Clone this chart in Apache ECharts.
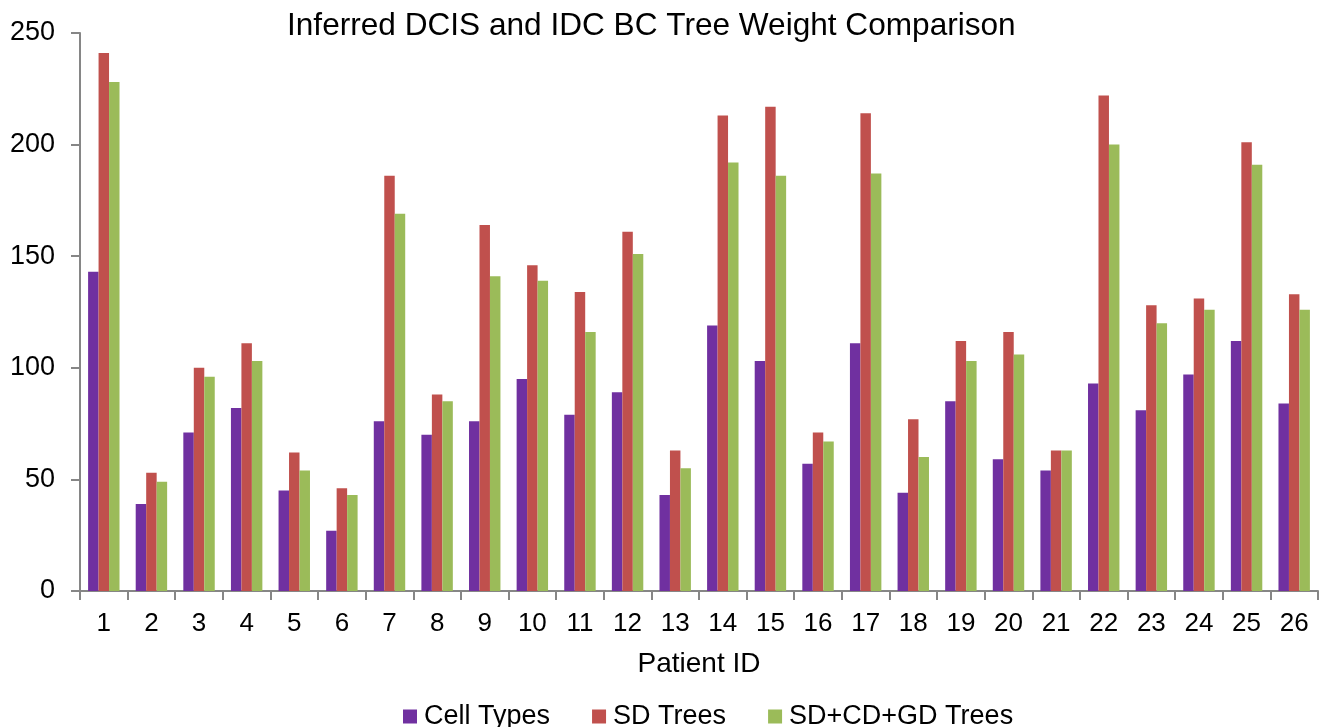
<!DOCTYPE html>
<html>
<head>
    <meta charset="utf-8">
    <script src="https://cdn.jsdelivr.net/npm/echarts@6/dist/echarts.min.js"></script>
    <style>
        html,body{margin:0;padding:0;background:#fff;}
        #chart{width:1322px;height:727px;}
    </style>
</head>
<body>
<div id="chart"></div>
<script type="text/javascript">
    //患者编号
    var patients = ['1','2','3','4','5','6','7','8','9','10','11','12','13','14','15','16','17','18','19','20','21','22','23','24','25','26'];
    //三组数据
    var cellTypes = [143,39,71,82,45,27,76,70,76,95,79,89,43,119,103,57,111,44,85,59,54,93,81,97,112,84];
    var sdTrees = [241,53,100,111,62,46,186,88,164,146,134,161,63,213,217,71,214,77,112,116,63,222,128,131,201,133];
    var sdCdGdTrees = [228,49,96,103,54,43,169,85,141,139,116,151,55,192,186,67,187,60,103,106,63,200,120,126,191,126];
    var yTicks = [0,50,100,150,200,250];

    var font = 'Liberation Sans, Arial, sans-serif';
    var axisGray = '#868686';

    var chart = echarts.init(document.getElementById('chart'));
    chart.setOption({
        animation: false,
        textStyle: { fontFamily: font },
        title: {
            text: 'Inferred DCIS and IDC BC Tree Weight Comparison',
            left: 282,
            top: 5,
            textStyle: { fontFamily: font, fontWeight: 'normal', fontSize: 31.6, color: '#000' }
        },
        legend: {
            top: 698,
            left: 398,
            itemWidth: 14,
            itemHeight: 14,
            itemGap: 42,
            icon: 'rect',
            textStyle: { fontFamily: font, fontSize: 27, color: '#000', padding: [0, 0, 0, 2] },
            data: ['Cell Types', 'SD Trees', 'SD+CD+GD Trees']
        },
        grid: { left: 80, right: 4, top: 33, bottom: 136, containLabel: false },
        xAxis: {
            type: 'category',
            data: patients,
            name: 'Patient ID',
            nameLocation: 'middle',
            nameGap: 59,
            nameTextStyle: { fontFamily: font, fontSize: 28, color: '#000' },
            axisLine: { lineStyle: { color: axisGray, width: 2 } },
            axisTick: { show: true, length: 9, lineStyle: { color: axisGray, width: 2 } },
            axisLabel: { margin: 20, fontSize: 26, color: '#000', fontFamily: font }
        },
        yAxis: {
            type: 'value',
            min: yTicks[0],
            max: yTicks[yTicks.length - 1],
            interval: 50,
            splitLine: { show: false },
            axisLine: { show: true, lineStyle: { color: axisGray, width: 2 } },
            axisTick: { show: true, length: 9, lineStyle: { color: axisGray, width: 2 } },
            axisLabel: { margin: 25, fontSize: 27, color: '#000', fontFamily: font }
        },
        series: [
            {
                name: 'Cell Types',
                type: 'bar',
                data: cellTypes,
                barGap: '0%',
                barCategoryGap: '34%',
                itemStyle: { color: '#7030A0' }
            },
            {
                name: 'SD Trees',
                type: 'bar',
                data: sdTrees,
                barGap: '0%',
                barCategoryGap: '34%',
                itemStyle: { color: '#C0504D' }
            },
            {
                name: 'SD+CD+GD Trees',
                type: 'bar',
                data: sdCdGdTrees,
                barGap: '0%',
                barCategoryGap: '34%',
                itemStyle: { color: '#9BBB59' }
            }
        ]
    });
</script>
</body>
</html>
